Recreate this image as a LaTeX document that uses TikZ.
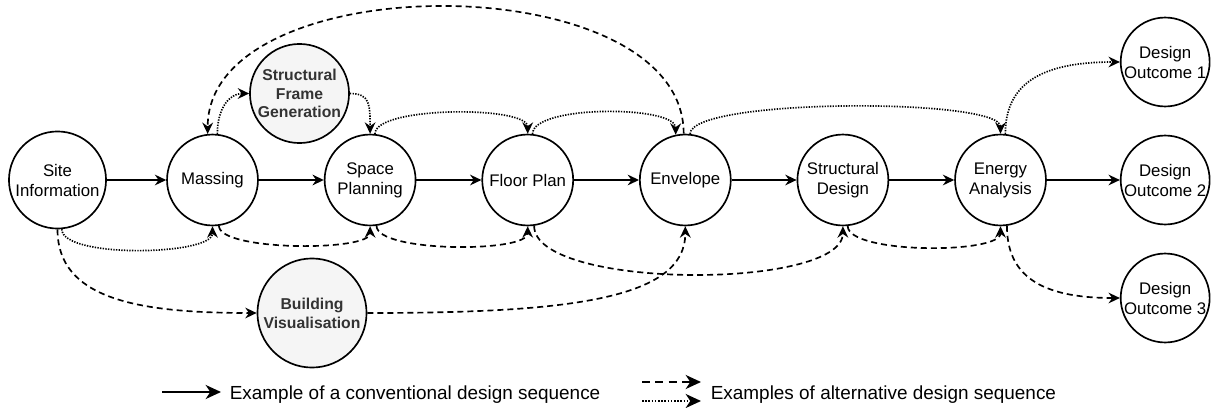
\documentclass[tikz,border=0pt]{standalone}
\usepackage{fontspec}
\setmainfont{Liberation Sans}
\usepackage{tikz}
\usetikzlibrary{positioning, arrows.meta}
\definecolor{cGen}{HTML}{F5F5F5}
\definecolor{cGenText}{HTML}{333333}

\begin{document}
\begin{tikzpicture}[x=0.75pt, y=-0.75pt, node distance=118.2pt, on grid, line width=1.25pt,
    >={Stealth[length=8.5pt, width=8pt, inset=2.8pt]},
    task/.style={circle, draw, line width=1.25pt, minimum size=68.2pt, inner sep=0pt, align=center, font=\fontsize{12.6}{15}\selectfont},
    gen/.style={task, fill=cGen, text=cGenText, font=\fontsize{11.8}{14.1}\selectfont\bfseries},
    conv/.style={->},
    altdash/.style={->, dash pattern=on 4.5pt off 3pt},
    altdot/.style={->, dash pattern=on 1pt off 1pt},
    legtext/.style={anchor=base west, inner sep=0pt, font=\fontsize{14.2}{17}\selectfont},
    legarrow/.style={line width=1.7pt, >={Stealth[length=11.5pt, width=10.5pt, inset=3.5pt]}}]
    \useasboundingbox (0,0) rectangle (1213,407);

    % main sequence
    \node[task, minimum size=72.8pt] (site) at (57.5,180) {Site\\Information};
    \node[task] (mass) at (212.5,180) {Massing};
    \node[task] (space) [right=of mass] {Space\\Planning};
    \node[task] (floor) [right=of space] {Floor Plan};
    \node[task] (env) [right=of floor] {Envelope};
    \node[task] (struct) [right=of env] {Structural\\Design};
    \node[task] (energy) [right=of struct] {Energy\\Analysis};

    % outcomes
    \node[task, minimum size=66.7pt] (out2) [right=123.5pt of energy] {Design\\Outcome 2};
    \node[task, minimum size=66.7pt] (out1) [above=88.5pt of out2] {Design\\Outcome 1};
    \node[task, minimum size=66.7pt] (out3) [below=88.5pt of out2] {Design\\Outcome 3};

    % generative steps
    \node[gen, minimum size=74.3pt] (sfg) at (299.5,93.5) {Structural\\Frame\\Generation};
    \node[gen, minimum size=81.8pt] (vis) at (312,313) {Building\\Visualisation};

    \path[conv]
    (site) edge (mass)
    (mass) edge (space)
    (space) edge (floor)
    (floor) edge (env)
    (env) edge (struct)
    (struct) edge (energy)
    (energy) edge (out2);

    \path[altdash]
    (env.92) edge [out=90, in=90, distance=127pt] (mass.96)
    (site.270) edge [out=270, in=180, out distance=52pt, in distance=90pt] (vis.west)
    (mass.278) edge [out=270, in=270, distance=19pt] (space.south)
    (space.278) edge [out=270, in=270, distance=20pt] (floor.south)
    (floor.278) edge [out=270, in=270, distance=48pt] (struct.south)
    (vis.east) edge [out=0, in=270, out distance=150pt, in distance=55pt] (env.south)
    (struct.276) edge [out=270, in=270, distance=21pt] (energy.south)
    (energy.278) edge [out=270, in=180, out distance=37pt, in distance=60pt] (out3.west);

    \path[altdot]
    (site.275) edge [out=270, in=270, distance=22pt] (mass.south)
    (mass.84) edge [out=90, in=180, out distance=19pt, in distance=15pt] (sfg.west)
    (sfg.east) edge [out=0, in=90, out distance=15pt, in distance=22pt] (space.north)
    (space.84) edge [out=90, in=90, distance=21pt] (floor.north)
    (floor.84) edge [out=90, in=90, distance=22pt] (env.102)
    (env.84) edge [out=90, in=90, distance=27pt] (energy.north)
    (energy.84) edge [out=90, in=180, out distance=37pt, in distance=60pt] (out1.west);

    % legend
    \coordinate (lc0) at (162,392);
    \coordinate (lc1) at (221,392);
    \coordinate (ld0) at (642,382);
    \coordinate (ld1) at (701,382);
    \coordinate (lt0) at (642,401);
    \coordinate (lt1) at (701,401);
    \node[legtext] (legconv) at (229,399) {Example of a conventional design sequence};
    \node[legtext] (legalt) at (710,399) {Examples of alternative design sequence};
    \draw[conv, legarrow] (lc0) -- (lc1);
    \draw[altdash, legarrow, dash pattern=on 6pt off 4pt] (ld0) -- (ld1);
    \draw[altdot, legarrow, dash pattern=on 1.2pt off 1.2pt] (lt0) -- (lt1);
\end{tikzpicture}
\end{document}
